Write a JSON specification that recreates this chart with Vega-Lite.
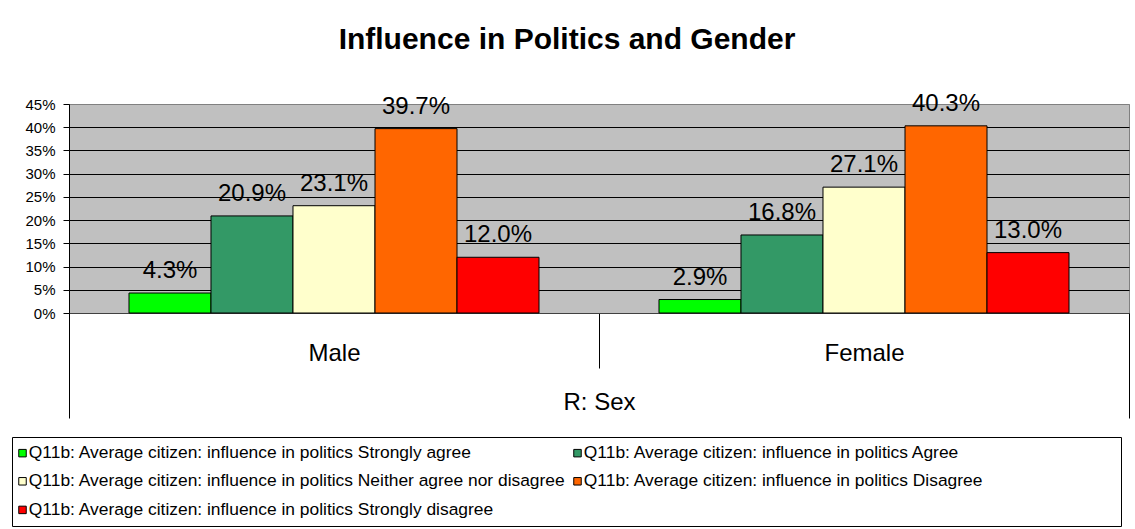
{
  "$schema": "https://vega.github.io/schema/vega-lite/v6.json",
  "autosize": "none",
  "width": 1060,
  "height": 209,
  "padding": {"left": 69, "top": 104, "right": 6, "bottom": 216},
  "background": "white",
  "title": {
    "text": "Influence in Politics and Gender",
    "fontSize": 30,
    "fontWeight": "bold",
    "color": "black",
    "anchor": "middle",
    "dx": -32,
    "offset": 13,
    "baseline": "alphabetic"
  },
  "data": {
    "values": [
      {"Sex": "Male", "Response": "Q11b: Average citizen: influence in politics Strongly agree", "Share": 0.043},
      {"Sex": "Male", "Response": "Q11b: Average citizen: influence in politics Agree", "Share": 0.209},
      {"Sex": "Male", "Response": "Q11b: Average citizen: influence in politics Neither agree nor disagree", "Share": 0.231},
      {"Sex": "Male", "Response": "Q11b: Average citizen: influence in politics Disagree", "Share": 0.397},
      {"Sex": "Male", "Response": "Q11b: Average citizen: influence in politics Strongly disagree", "Share": 0.120},
      {"Sex": "Female", "Response": "Q11b: Average citizen: influence in politics Strongly agree", "Share": 0.029},
      {"Sex": "Female", "Response": "Q11b: Average citizen: influence in politics Agree", "Share": 0.168},
      {"Sex": "Female", "Response": "Q11b: Average citizen: influence in politics Neither agree nor disagree", "Share": 0.271},
      {"Sex": "Female", "Response": "Q11b: Average citizen: influence in politics Disagree", "Share": 0.403},
      {"Sex": "Female", "Response": "Q11b: Average citizen: influence in politics Strongly disagree", "Share": 0.130}
    ]
  },
  "encoding": {
    "x": {
      "field": "Sex",
      "type": "nominal",
      "sort": ["Male", "Female"],
      "scale": {"paddingInner": 0, "paddingOuter": 0},
      "axis": {
        "title": "R: Sex",
        "titleFontSize": 24,
        "titleFontWeight": "normal",
        "titleColor": "black",
        "titlePadding": -28,
        "labelFontSize": 24,
        "labelColor": "black",
        "labelAngle": 0,
        "labelPadding": {"condition": {"test": "datum.value === 'Male'", "value": -27}, "value": -77},
        "tickBand": "extent",
        "tickColor": "black",
        "tickSize": {"condition": {"test": "datum.value === 'Male'", "value": 55}, "value": 105},
        "domainColor": "#404040"
      }
    },
    "xOffset": {
      "field": "Response",
      "type": "nominal",
      "sort": [
        "Q11b: Average citizen: influence in politics Strongly agree",
        "Q11b: Average citizen: influence in politics Agree",
        "Q11b: Average citizen: influence in politics Neither agree nor disagree",
        "Q11b: Average citizen: influence in politics Disagree",
        "Q11b: Average citizen: influence in politics Strongly disagree"
      ],
      "scale": {"paddingInner": 0, "paddingOuter": 0.7317}
    },
    "y": {
      "field": "Share",
      "type": "quantitative",
      "scale": {"domain": [0, 0.45], "nice": false},
      "axis": {
        "title": null,
        "values": [0, 0.05, 0.1, 0.15, 0.2, 0.25, 0.3, 0.35, 0.4, 0.45],
        "format": ".0%",
        "labelFontSize": 15,
        "labelColor": "black",
        "labelPadding": 8,
        "tickSize": 6,
        "tickColor": "black",
        "domainColor": "black",
        "grid": true,
        "gridColor": {"condition": {"test": "datum.value >= 0.449", "value": "#808080"}, "value": "black"},
        "gridOpacity": 1
      }
    }
  },
  "layer": [
    {
      "mark": {"type": "bar", "stroke": "black", "strokeWidth": 1},
      "encoding": {
        "color": {
          "field": "Response",
          "type": "nominal",
          "sort": [
            "Q11b: Average citizen: influence in politics Strongly agree",
            "Q11b: Average citizen: influence in politics Agree",
            "Q11b: Average citizen: influence in politics Neither agree nor disagree",
            "Q11b: Average citizen: influence in politics Disagree",
            "Q11b: Average citizen: influence in politics Strongly disagree"
          ],
          "scale": {"range": ["#00FF00", "#339966", "#FFFFCC", "#FF6600", "#FF0000"]},
          "legend": {
            "orient": "none",
            "legendX": -57,
            "legendY": 333,
            "direction": "horizontal",
            "columns": 2,
            "title": "\u200b\u00a0\u00a0\u00a0\u00a0\u00a0\u00a0\u00a0\u00a0\u00a0\u00a0\u00a0\u00a0\u00a0\u00a0\u00a0\u00a0\u00a0\u00a0\u00a0\u00a0\u00a0\u00a0\u00a0\u00a0\u00a0\u00a0\u00a0\u200b",
            "titleOrient": "right",
            "titleFontSize": 17.4,
            "titleFontWeight": "normal",
            "titlePadding": 0,
            "titleLimit": 400,
            "symbolType": "square",
            "symbolSize": 56,
            "symbolStrokeColor": "black",
            "symbolStrokeWidth": 1,
            "symbolOffset": -5.2,
            "labelFontSize": 17.4,
            "labelColor": "black",
            "labelLimit": 1000,
            "labelOffset": -2.4,
            "columnPadding": 5,
            "rowPadding": 9.6,
            "padding": 7,
            "fillColor": "white",
            "strokeColor": "black"
          }
        }
      }
    },
    {
      "mark": {"type": "text", "dy": -15, "baseline": "alphabetic", "fontSize": 24, "color": "black"},
      "encoding": {"text": {"field": "Share", "type": "quantitative", "format": ".1%"}}
    }
  ],
  "config": {
    "font": "Liberation Sans",
    "view": {"fill": "#C0C0C0", "stroke": "#808080"}
  }
}
